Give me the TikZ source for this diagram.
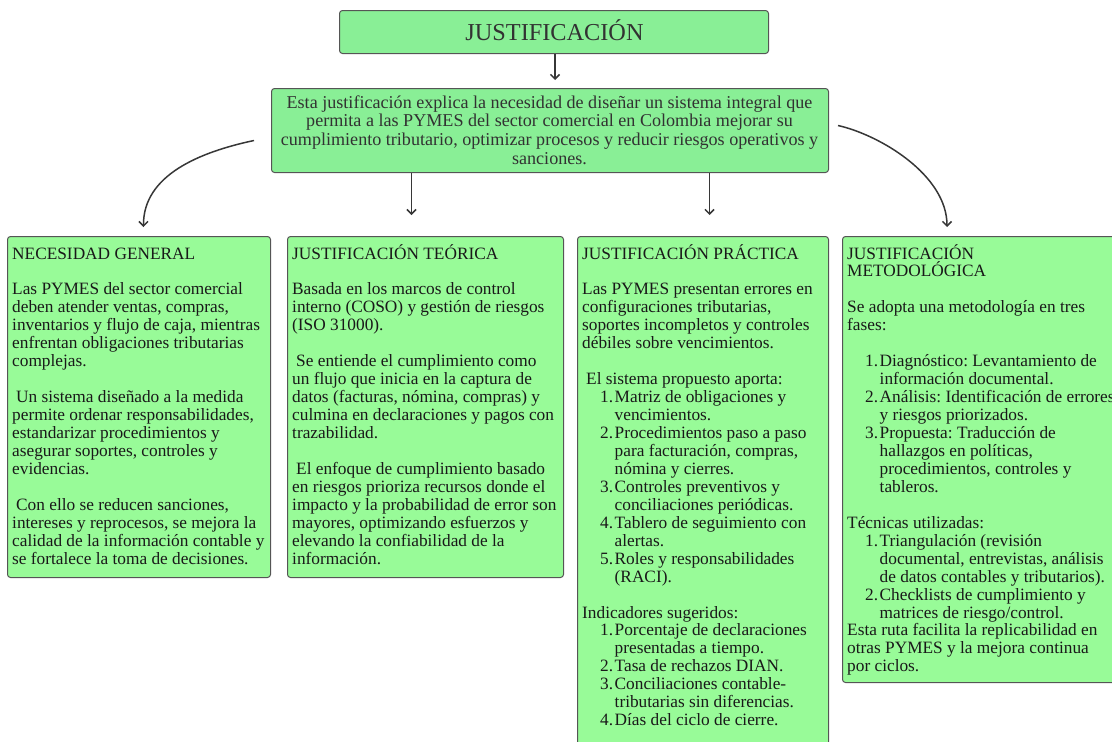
\documentclass[tikz,border=0pt]{standalone}
\usepackage{fontspec}
\setmainfont{Liberation Serif}
\usetikzlibrary{arrows.meta}
\definecolor{topgreen}{RGB}{137,239,150}
\definecolor{boxgreen}{RGB}{152,251,152}
\definecolor{edgegray}{RGB}{85,85,85}
\definecolor{ink}{RGB}{25,25,25}
\definecolor{titleink}{RGB}{50,50,50}
\definecolor{arrowgray}{RGB}{55,55,55}
\newcommand{\numitem}[2]{\hspace*{31pt}\llap{#1}\hspace*{1.5pt}#2}
\newcommand{\contline}[1]{\hspace*{32.5pt}#1}
\newcommand{\blankline}{\mbox{}}
\tikzset{
  panel/.style={draw=edgegray, line width=1pt, rounded corners=3pt, anchor=north west, inner sep=0pt},
  topbox/.style={panel, fill=topgreen},
  subbox/.style={panel, fill=boxgreen},
  bodytext/.style={anchor=base west, inner sep=0pt, text=ink, font=\fontsize{17.3}{17.95}\selectfont\frenchspacing},
  maintext/.style={anchor=base, inner sep=0pt, text=titleink, align=center, font=\fontsize{18.1}{18.7}\selectfont\frenchspacing},
  titletext/.style={anchor=base, inner sep=0pt, text=titleink, font=\fontsize{24.3}{26}\selectfont},
  conn/.style={draw=arrowgray, line width=1.5pt, -{Straight Barb[length=4.5pt,width=9pt]}}
}
\begin{document}
\begin{tikzpicture}[x=1pt,y=-1pt]
\useasboundingbox (0,0) rectangle (1112,742);
\clip (0,0) rectangle (1112,742);

% boxes
\node[topbox, minimum width=429pt, minimum height=43pt] (title) at (339,10) {};
\node[topbox, minimum width=557pt, minimum height=84pt] (main) at (271,88) {};
\node[subbox, minimum width=263pt, minimum height=341pt] (b1) at (7,236) {};
\node[subbox, minimum width=276pt, minimum height=341pt] (b2) at (287,236) {};
\node[subbox, minimum width=251pt, minimum height=530pt] (b3) at (577,236) {};
\node[subbox, minimum width=290pt, minimum height=446pt] (b4) at (842,236) {};

% texts
\node[titletext] (titlet) at (554.5,40) {JUSTIFICACIÓN};
\node[maintext] (maint) at (549.5,108) {\parbox[t]{640pt}{\centering
Esta justificación explica la necesidad de diseñar un sistema integral que\\
permita a las PYMES del sector comercial en Colombia mejorar su\\
cumplimiento tributario, optimizar procesos y reducir riesgos operativos y\\
sanciones.}};

\node[bodytext] (t1) at (12,259) {\parbox[t]{300pt}{\raggedright
NECESIDAD GENERAL\\
\blankline\\
Las PYMES del sector comercial\\
deben atender ventas, compras,\\
inventarios y flujo de caja, mientras\\
enfrentan obligaciones tributarias\\
complejas.\\
\blankline\\
\hspace*{4pt}Un sistema diseñado a la medida\\
permite ordenar responsabilidades,\\
estandarizar procedimientos y\\
asegurar soportes, controles y\\
evidencias.\\
\blankline\\
\hspace*{4pt}Con ello se reducen sanciones,\\
intereses y reprocesos, se mejora la\\
calidad de la información contable y\\
se fortalece la toma de decisiones.}};

\node[bodytext] (t2) at (292,259) {\parbox[t]{300pt}{\raggedright
JUSTIFICACIÓN TEÓRICA\\
\blankline\\
Basada en los marcos de control\\
interno (COSO) y gestión de riesgos\\
(ISO 31000).\\
\blankline\\
\hspace*{4pt}Se entiende el cumplimiento como\\
un flujo que inicia en la captura de\\
datos (facturas, nómina, compras) y\\
culmina en declaraciones y pagos con\\
trazabilidad.\\
\blankline\\
\hspace*{4pt}El enfoque de cumplimiento basado\\
en riesgos prioriza recursos donde el\\
impacto y la probabilidad de error son\\
mayores, optimizando esfuerzos y\\
elevando la confiabilidad de la\\
información.}};

\node[bodytext] (t3) at (582,259) {\parbox[t]{300pt}{\raggedright
JUSTIFICACIÓN PRÁCTICA\\
\blankline\\
Las PYMES presentan errores en\\
configuraciones tributarias,\\
soportes incompletos y controles\\
débiles sobre vencimientos.\\
\blankline\\
\hspace*{4pt}El sistema propuesto aporta:\\
\numitem{1.}{Matriz de obligaciones y}\\
\contline{vencimientos.}\\
\numitem{2.}{Procedimientos paso a paso}\\
\contline{para facturación, compras,}\\
\contline{nómina y cierres.}\\
\numitem{3.}{Controles preventivos y}\\
\contline{conciliaciones periódicas.}\\
\numitem{4.}{Tablero de seguimiento con}\\
\contline{alertas.}\\
\numitem{5.}{Roles y responsabilidades}\\
\contline{(RACI).}\\
\blankline\\
Indicadores sugeridos:\\
\numitem{1.}{Porcentaje de declaraciones}\\
\contline{presentadas a tiempo.}\\
\numitem{2.}{Tasa de rechazos DIAN.}\\
\numitem{3.}{Conciliaciones contable-}\\
\contline{tributarias sin diferencias.}\\
\numitem{4.}{Días del ciclo de cierre.}}};

\node[bodytext] (t4) at (847,259) {\parbox[t]{320pt}{\raggedright
JUSTIFICACIÓN\\
METODOLÓGICA\\
\blankline\\
Se adopta una metodología en tres\\
fases:\\
\blankline\\
\numitem{1.}{Diagnóstico: Levantamiento de}\\
\contline{información documental.}\\
\numitem{2.}{Análisis: Identificación de errores}\\
\contline{y riesgos priorizados.}\\
\numitem{3.}{Propuesta: Traducción de}\\
\contline{hallazgos en políticas,}\\
\contline{procedimientos, controles y}\\
\contline{tableros.}\\
\blankline\\
Técnicas utilizadas:\\
\numitem{1.}{Triangulación (revisión}\\
\contline{documental, entrevistas, análisis}\\
\contline{de datos contables y tributarios).}\\
\numitem{2.}{Checklists de cumplimiento y}\\
\contline{matrices de riesgo/control.}\\
Esta ruta facilita la replicabilidad en\\
otras PYMES y la mejora continua\\
por ciclos.}};

% connectors
\draw[conn, shorten >=8pt] ([xshift=1pt]title.south) -- ([xshift=1pt]title.south |- main.north);
\draw[conn, shorten >=21pt] ([xshift=-14pt]b2.north |- main.south) -- ([xshift=-14pt]b2.north);
\draw[conn, shorten >=21pt] ([xshift=6.5pt]b3.north |- main.south) -- ([xshift=6.5pt]b3.north);
\draw[conn] ([xshift=-17pt,yshift=-10pt]main.west) .. controls (200,152) and (143,175) .. ([xshift=4.5pt,yshift=9pt]b1.north);
\draw[conn] ([xshift=9pt,yshift=5pt]main.east) .. controls (880,135) and (947,175) .. ([xshift=105pt,yshift=9pt]b4.north west);
\end{tikzpicture}
\end{document}
